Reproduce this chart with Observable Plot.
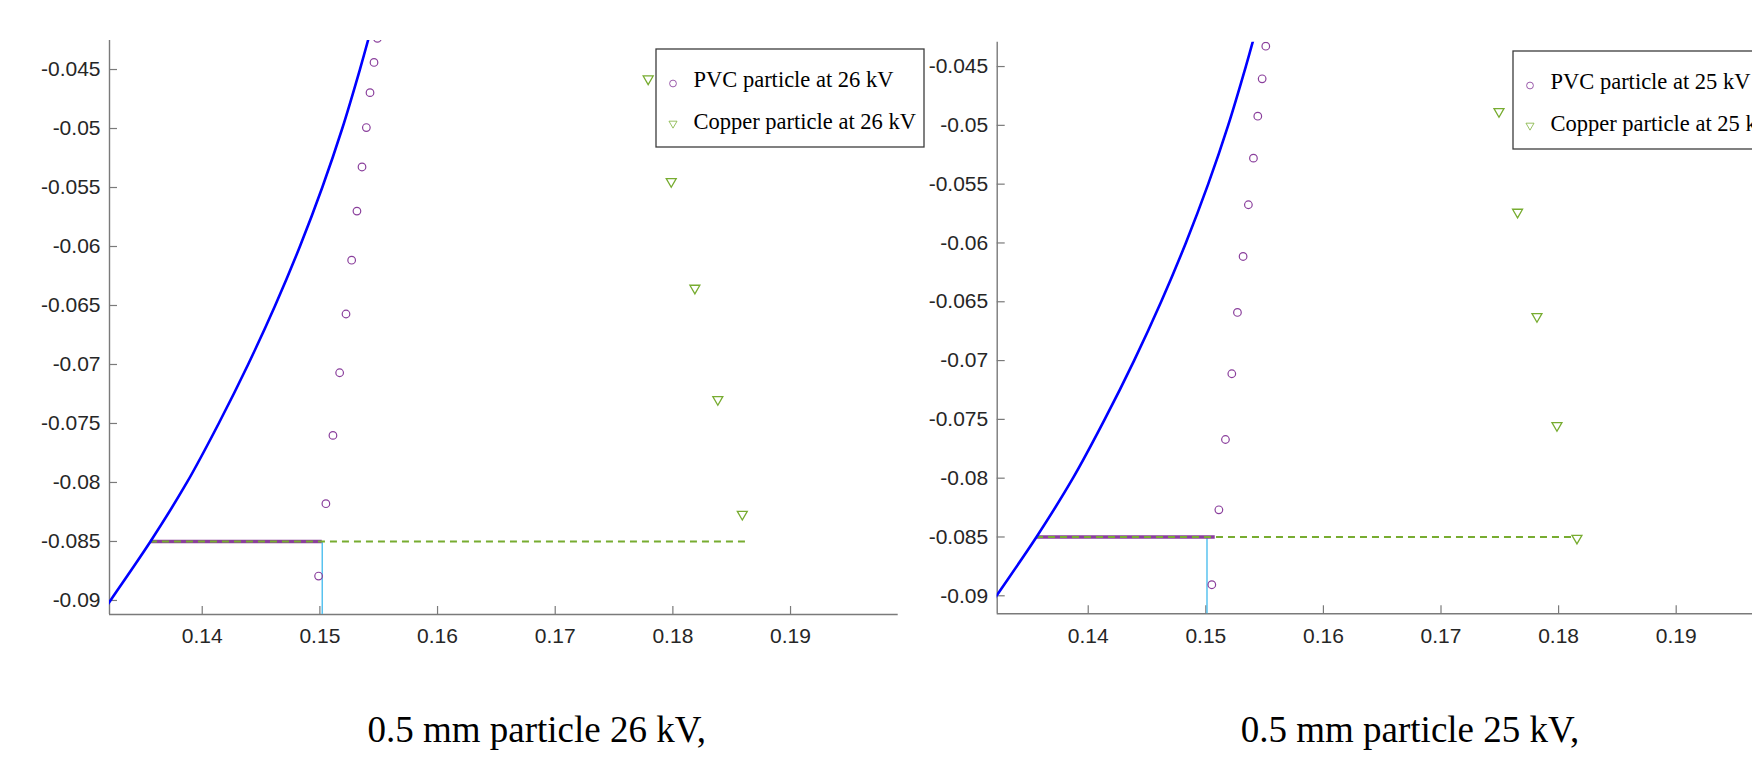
<!DOCTYPE html>
<html>
<head>
<meta charset="utf-8">
<script src="https://cdn.jsdelivr.net/npm/d3@7"></script>
<script src="https://cdn.jsdelivr.net/npm/@observablehq/plot@0.6"></script>
<style>
  html, body { margin: 0; padding: 0; background: #fff; }
  #stage { position: relative; width: 1752px; height: 761px; overflow: hidden; background: #fff; }
  .panel { position: absolute; top: 0; }
  .legend { position: absolute; overflow: visible; }
  .caption {
    position: absolute; top: 710px; line-height: 40px; white-space: nowrap;
    font-family: "Liberation Serif", "Times New Roman", serif; font-size: 37px; color: #000;
    transform: translateX(-50%);
  }
</style>
</head>
<body>
<div id="stage"></div>
<script>
// Axis ticks shared by both panels
const yTicks = [-0.09, -0.085, -0.08, -0.075, -0.07, -0.065, -0.06, -0.055, -0.05, -0.045];
const yTickLabels = ["-0.09", "-0.085", "-0.08", "-0.075", "-0.07", "-0.065", "-0.06", "-0.055", "-0.05", "-0.045"];
const xTicks = [0.14, 0.15, 0.16, 0.17, 0.18, 0.19];
const xTickLabels = ["0.14", "0.15", "0.16", "0.17", "0.18", "0.19"];

// Electrode surface profile (m)
const electrodeX = [0.1314, 0.1322, 0.1356, 0.1387, 0.1414, 0.1439, 0.1462, 0.1483, 0.1502, 0.1519, 0.1534, 0.1541, 0.1545];
const electrodeY = [-0.0912, -0.0900, -0.0850, -0.0800, -0.0750, -0.0700, -0.0650, -0.0600, -0.0550, -0.0500, -0.0450, -0.0425, -0.0410];

// Level used for the lift-off comparison
const gapLevel = -0.085;

// 26 kV trajectories
const pvc26X = [0.15489, 0.15460, 0.15426, 0.15395, 0.15358, 0.15315, 0.15270, 0.15222, 0.15168, 0.15111, 0.15051, 0.14989];
const pvc26Y = [-0.04236, -0.04440, -0.04696, -0.04992, -0.05326, -0.05700, -0.06116, -0.06572, -0.07070, -0.07601, -0.08180, -0.08793];
const cu26X = [0.17790, 0.17986, 0.18187, 0.18382, 0.18590];
const cu26Y = [-0.04579, -0.05449, -0.06353, -0.07297, -0.08269];
const pvc26Reach = 0.1502;   // PVC crossing of the gap level
const cu26Reach = 0.1863;    // copper crossing of the gap level
const marker26 = 0.1502;

// 25 kV trajectories
const pvc25X = [0.15510, 0.15479, 0.15442, 0.15405, 0.15362, 0.15317, 0.15269, 0.15221, 0.15167, 0.15111, 0.15051];
const pvc25Y = [-0.04327, -0.04604, -0.04922, -0.05279, -0.05675, -0.06115, -0.06591, -0.07112, -0.07671, -0.08269, -0.08906];
const cu25X = [0.17493, 0.17651, 0.17816, 0.17986, 0.18156];
const cu25Y = [-0.04882, -0.05738, -0.06625, -0.07552, -0.08510];
const pvc25Reach = 0.1508;
const cu25Reach = 0.1811;
const marker25 = 0.1501;

const panelTitles = ["0.5 mm particle 26 kV,", "0.5 mm particle 25 kV,"];
const legendLabels = [
  ["PVC particle at 26 kV", "Copper particle at 26 kV"],
  ["PVC particle at 25 kV", "Copper particle at 25 kV"]
];

const BLUE = "#0000ff";
const PURPLE = "#8a3f9c";
const GREEN = "#77ac30";
const CYAN = "#4dbeee";
const AXIS = "#7a7a7a";
const TICK_FONT = 21;

const zip = (xs, ys) => xs.map((x, i) => ({x, y: ys[i]}));
const electrode = zip(electrodeX, electrodeY);

function panel(cfg) {
  const pvc = zip(cfg.pvcX, cfg.pvcY);
  const cu = zip(cfg.cuX, cfg.cuY);
  const startX = electrodeX[electrodeY.indexOf(gapLevel)];
  return Plot.plot({
    width: cfg.width,
    height: cfg.height,
    marginLeft: cfg.marginLeft,
    marginRight: cfg.marginRight,
    marginTop: cfg.marginTop,
    marginBottom: cfg.marginBottom,
    style: {
      fontFamily: "'Liberation Sans', Arial, sans-serif",
      fontSize: TICK_FONT + "px",
      color: "#262626",
      background: "transparent",
      overflow: "visible"
    },
    x: {domain: cfg.xDomain},
    y: {domain: cfg.yDomain},
    marks: [
      // axis lines (left and bottom only)
      Plot.ruleX([cfg.xDomain[0]], {stroke: AXIS, strokeWidth: 1.4}),
      Plot.ruleY([cfg.yDomain[0]], {stroke: AXIS, strokeWidth: 1.4}),
      // tick labels
      Plot.axisX({ticks: xTicks, tickSize: 0, tickPadding: 14, label: null, fontSize: TICK_FONT,
        tickFormat: d => xTickLabels[xTicks.indexOf(d)], fill: "#262626"}),
      Plot.axisY({ticks: yTicks, tickSize: 0, tickPadding: 9, label: null, fontSize: TICK_FONT,
        tickFormat: d => yTickLabels[yTicks.indexOf(d)], fill: "#262626"}),
      // inward tick marks
      Plot.axisX({ticks: xTicks, tickSize: 8, dy: -8, label: null, fill: "none", stroke: AXIS, strokeWidth: 1.2}),
      Plot.axisY({ticks: yTicks, tickSize: 8, dx: 8, label: null, fill: "none", stroke: AXIS, strokeWidth: 1.2}),
      // vertical reference down to the axis
      Plot.ruleX([{x: cfg.markX, y1: gapLevel, y2: cfg.yDomain[0]}],
        {x: "x", y1: "y1", y2: "y2", stroke: CYAN, strokeWidth: 1.4}),
      // gap level reached by each particle
      Plot.ruleY([{y: gapLevel, x1: startX, x2: cfg.pvcReach}],
        {y: "y", x1: "x1", x2: "x2", stroke: PURPLE, strokeWidth: 3.6}),
      Plot.ruleY([{y: gapLevel, x1: startX, x2: cfg.cuReach}],
        {y: "y", x1: "x1", x2: "x2", stroke: GREEN, strokeWidth: 2, strokeDasharray: "7,5"}),
      // electrode
      Plot.line(electrode, {x: "x", y: "y", stroke: BLUE, strokeWidth: 2.6, curve: "catmull-rom", clip: true}),
      // particle positions
      Plot.dot(pvc, {x: "x", y: "y", r: 3.8, stroke: PURPLE, strokeWidth: 1.2, fill: "none", clip: true}),
      Plot.dot(cu, {x: "x", y: "y", r: 3.7, symbol: "triangle", rotate: 180, stroke: GREEN, strokeWidth: 1.3, fill: "none", clip: true})
    ]
  });
}

function legend(labels, left, top) {
  const w = 268, h = 98;
  const svg = d3.create("svg")
    .attr("class", "legend")
    .attr("width", w + 2).attr("height", h + 2)
    .style("left", (left - 1) + "px").style("top", (top - 1) + "px");
  const g = svg.append("g").attr("transform", "translate(1,1)");
  g.append("rect").attr("width", w).attr("height", h)
    .attr("fill", "#fff").attr("stroke", "#3c3c3c").attr("stroke-width", 1.3);
  g.append("circle").attr("cx", 17).attr("cy", 34.5).attr("r", 3.4)
    .attr("fill", "none").attr("stroke", PURPLE).attr("stroke-opacity", 0.85).attr("stroke-width", 1);
  g.append("path").attr("transform", "translate(17,74.5) rotate(180)")
    .attr("d", d3.symbol(d3.symbolTriangle, 28)())
    .attr("fill", "none").attr("stroke", GREEN).attr("stroke-opacity", 0.75).attr("stroke-width", 1);
  const txt = g.append("g")
    .attr("font-family", "'Liberation Serif', 'Times New Roman', serif")
    .attr("font-size", 22.5).attr("fill", "#000");
  txt.append("text").attr("x", 37.5).attr("y", 37.8).text(labels[0]);
  txt.append("text").attr("x", 37.5).attr("y", 80).text(labels[1]);
  return svg.node();
}

const stage = document.getElementById("stage");

// 26 kV panel
const left = panel({
  pvcX: pvc26X, pvcY: pvc26Y, cuX: cu26X, cuY: cu26Y,
  pvcReach: pvc26Reach, cuReach: cu26Reach, markX: marker26,
  xDomain: [0.13212, 0.19915], yDomain: [-0.09119, -0.04254],
  width: 930, height: 680, marginLeft: 109, marginRight: 32.3, marginTop: 40, marginBottom: 66
});
left.classList.add("panel");
left.style.left = "0px";
stage.appendChild(left);

// 25 kV panel
const right = panel({
  pvcX: pvc25X, pvcY: pvc25Y, cuX: cu25X, cuY: cu25Y,
  pvcReach: pvc25Reach, cuReach: cu25Reach, markX: marker25,
  xDomain: [0.13226, 0.19915], yDomain: [-0.09153, -0.04293],
  width: 915.3, height: 680, marginLeft: 96.7, marginRight: 32, marginTop: 41.7, marginBottom: 66.7
});
right.classList.add("panel");
right.style.left = "900px";
stage.appendChild(right);

stage.appendChild(legend(legendLabels[0], 655.7, 49));
stage.appendChild(legend(legendLabels[1], 1512.7, 50.7));

panelTitles.forEach((t, i) => {
  const d = document.createElement("div");
  d.className = "caption";
  d.style.left = (i === 0 ? 536.7 : 1410) + "px";
  d.textContent = t;
  stage.appendChild(d);
});
</script>
</body>
</html>
